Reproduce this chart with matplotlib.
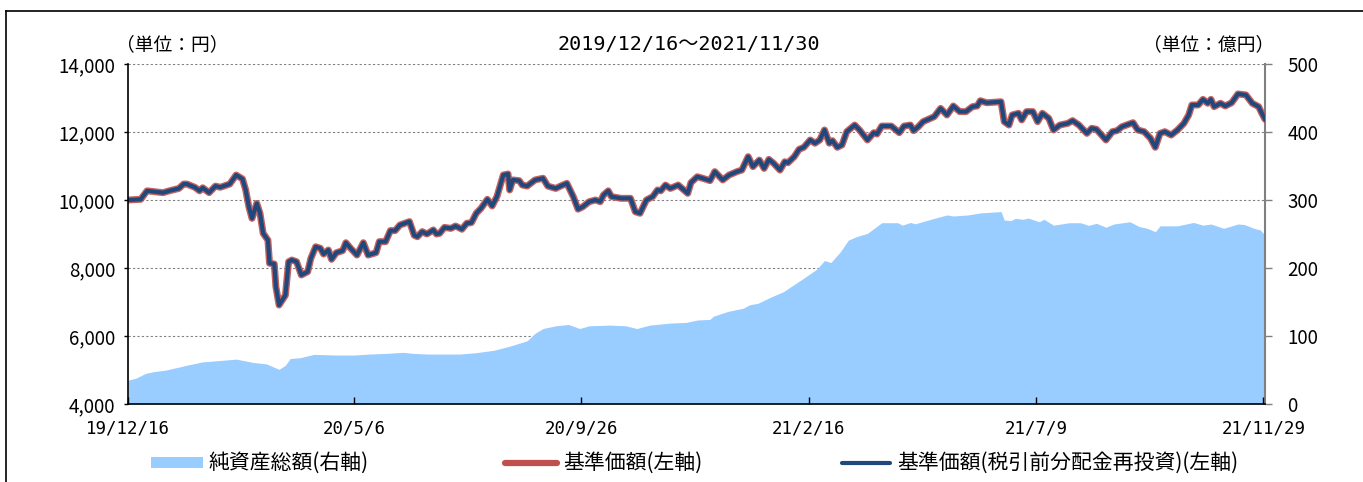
import numpy as np
import matplotlib
matplotlib.use("Agg")
import matplotlib.pyplot as plt
from matplotlib.lines import Line2D
from matplotlib.patches import Rectangle
from matplotlib.ticker import FuncFormatter

plt.rcParams["font.family"] = ["Noto Sans CJK JP", "DejaVu Sans"]
MONO = ["DejaVu Sans Mono", "Noto Sans CJK JP"]

START = np.datetime64("2019-12-16")
END = np.datetime64("2021-11-30")

# 基準価額（円）: 設定日からの経過日数と値
nav_days = [
    0, 8, 12, 22, 26, 32, 35, 37, 42, 45, 47, 51, 55, 58, 64, 68, 72, 74, 76, 78,
    81, 83, 85, 88, 89, 92, 93, 95, 99, 101, 103, 106, 109, 113, 115, 118, 121, 123, 126, 128,
    131, 135, 137, 140, 144, 148, 151, 156, 158, 162, 165, 168, 171, 177, 180, 182, 185, 188, 192, 194,
    196, 199, 203, 206, 210, 213, 216, 219, 222, 226, 229, 232, 236, 239, 240, 242, 246, 248, 251, 256,
    261, 264, 269, 272, 276, 280, 283, 286, 290, 294, 297, 299, 302, 304, 310, 316, 319, 322, 326, 330,
    333, 335, 338, 341, 346, 352, 354, 358, 362, 366, 369, 374, 378, 383, 386, 390, 393, 397, 400, 403,
    406, 410, 413, 415, 419, 422, 425, 429, 432, 435, 438, 441, 443, 446, 449, 452, 457, 460, 465, 469,
    471, 474, 480, 485, 488, 492, 494, 497, 500, 507, 511, 515, 519, 523, 527, 531, 534, 536, 540, 549,
    551, 554, 556, 560, 562, 565, 569, 572, 575, 579, 582, 586, 591, 594, 598, 603, 606, 609, 615, 619,
    622, 625, 628, 632, 635, 639, 643, 646, 649, 652, 656, 660, 664, 667, 669, 673, 676, 679, 681, 683,
    687, 690, 694, 698, 703, 707, 711, 713, 715,
]
nav_values = [
    10000, 10020, 10270, 10215, 10270, 10340, 10470, 10470, 10375, 10270, 10360, 10215, 10410, 10375, 10470, 10735, 10620, 10300, 9800, 9460,
    9900, 9610, 9020, 8820, 8140, 8120, 7450, 6910, 7200, 8185, 8235, 8185, 7795, 7890, 8285, 8625, 8580, 8410, 8530, 8255,
    8450, 8510, 8745, 8580, 8380, 8745, 8380, 8450, 8775, 8775, 9100, 9100, 9265, 9365, 8960, 8920, 9070, 9000, 9120, 9000,
    9020, 9195, 9165, 9235, 9140, 9315, 9335, 9610, 9755, 10020, 9825, 10100, 10735, 10765, 10295, 10590, 10570, 10440, 10410, 10590,
    10640, 10410, 10340, 10410, 10490, 10100, 9730, 9800, 9950, 10000, 9950, 10145, 10270, 10100, 10050, 10050, 9655, 9610, 10000, 10100,
    10295, 10270, 10440, 10340, 10440, 10195, 10510, 10685, 10630, 10570, 10835, 10590, 10735, 10835, 10880, 11275, 10980, 11175, 10930, 11195,
    11080, 10880, 11125, 11095, 11275, 11490, 11550, 11765, 11670, 11765, 12060, 11670, 11745, 11550, 11620, 12010, 12205, 12060, 11765, 11980,
    11940, 12175, 12175, 11980, 12175, 12205, 12040, 12155, 12305, 12450, 12695, 12500, 12765, 12600, 12600, 12745, 12765, 12920, 12860, 12890,
    12305, 12205, 12500, 12550, 12355, 12600, 12600, 12305, 12550, 12405, 12060, 12205, 12255, 12335, 12205, 11960, 12110, 12080, 11765, 12010,
    12040, 12155, 12205, 12275, 12060, 12010, 11815, 11550, 11960, 12010, 11910, 12060, 12255, 12500, 12795, 12795, 12960, 12845, 12960, 12745,
    12845, 12765, 12860, 13120, 13090, 12845, 12745, 12550, 12375,
]
# 分配実績なしのため、税引前分配金再投資の基準価額は基準価額と同じ
nav_reinvest_values = nav_values

# 純資産総額（億円）
aum_days = [
    0, 5, 11, 16, 24, 37, 47, 58, 68, 79, 87, 95, 99, 102, 108, 117, 131, 142, 152, 163,
    173, 179, 188, 209, 219, 230, 240, 251, 256, 261, 269, 277, 284, 290, 303, 313, 320, 328, 341, 351,
    358, 366, 368, 377, 387, 391, 396, 404, 412, 423, 433, 438, 442, 448, 453, 458, 465, 474, 484, 487,
    492, 495, 507, 515, 519, 528, 536, 549, 551, 555, 558, 563, 566, 573, 576, 582, 592, 599, 604, 609,
    615, 620, 630, 636, 641, 646, 649, 660, 670, 676, 681, 689, 698, 702, 708, 712, 715,
]
aum_values = [
    35, 38, 45, 47.5, 50, 57, 62, 64, 66, 61, 59, 51, 57, 67, 68, 73, 72, 72, 73.5, 74.5,
    76, 74.5, 73.5, 73.5, 75.5, 79, 85, 93, 104, 111, 115, 117, 111, 115, 116, 115, 111, 116, 119, 120,
    123.5, 124.5, 129, 136, 141, 146, 148, 157, 165, 182, 198, 211, 208, 224, 241, 246, 251, 266.6, 266.6, 263,
    267, 265, 273, 278, 276.5, 278, 281, 283, 270.6, 269.6, 273, 271.6, 273.5, 268, 271.6, 263, 266.6, 266.6, 262.7, 265.7,
    260, 264.7, 268, 260.8, 258.4, 253.4, 262, 262, 267, 263, 264.7, 258.4, 264.7, 264, 258.4, 256, 248.5,
]

tick_dates = ["2019-12-16", "2020-05-06", "2020-09-26", "2021-02-16", "2021-07-09", "2021-11-29"]
tick_labels = ["19/12/16", "20/5/6", "20/9/26", "21/2/16", "21/7/9", "21/11/29"]

RED = "#C0504D"
NAVY = "#1F497D"
AREA = "#99CCFF"
GRID = "#808080"

nav_dates = START + np.array(nav_days, dtype="timedelta64[D]")
aum_dates = START + np.array(aum_days, dtype="timedelta64[D]")

fig = plt.figure(figsize=(13.63, 4.82), dpi=100)
ax = fig.add_axes([0.0939, 0.1618, 0.8342, 0.7054])
ax2 = ax.twinx()

# 純資産総額（右軸）
ax2.fill_between(aum_dates, aum_values, 0, color=AREA, lw=0, zorder=2)
ax2.set_ylim(0, 500)
ax2.set_yticks(np.arange(0, 501, 100))
ax2.set_axisbelow(True)
ax2.grid(axis="y", ls=(0, (2, 2)), color=GRID, lw=0.8)
ax2.tick_params(axis="y", direction="out", length=5, width=1, color=GRID, pad=11, labelsize=13.5)

# 基準価額（左軸）を前面に
ax.set_zorder(ax2.get_zorder() + 1)
ax.patch.set_visible(False)
ax.plot(nav_dates, nav_values, color=RED, lw=5, alpha=0.9, solid_joinstyle="round", solid_capstyle="round")
ax.plot(nav_dates, nav_reinvest_values, color=NAVY, lw=3, solid_joinstyle="round")
ax.set_ylim(4000, 14000)
ax.set_yticks(np.arange(4000, 14001, 2000))
ax.yaxis.set_major_formatter(FuncFormatter(lambda v, p: f"{int(v):,}"))
ax.set_xlim(START, END)
ax.set_xticks(np.array(tick_dates, dtype="datetime64[D]"))
ax.set_xticklabels(tick_labels, family=MONO)
ax.tick_params(axis="x", direction="in", length=5, width=1, pad=11, labelsize=12.5)
ax.tick_params(axis="y", direction="out", length=3, width=1, pad=6, labelsize=13.5)

for s in ["top", "right"]:
    ax.spines[s].set_visible(False)
ax.spines["left"].set_linewidth(1.2)
ax.spines["bottom"].set_linewidth(1.2)
for s in ["top", "left", "bottom"]:
    ax2.spines[s].set_visible(False)
ax2.spines["right"].set_color(GRID)
ax2.spines["right"].set_linewidth(1.5)

# 見出し
ty = 1 - 45 / 482
fig.text(688.5 / 1363, ty, "2019/12/16～2021/11/30", ha="center", va="center", fontsize=14.5, family=MONO)
fig.text(172 / 1363, ty, "（単位：円）", ha="center", va="center", fontsize=13.5)
fig.text(1209 / 1363, ty, "（単位：億円）", ha="center", va="center", fontsize=13.5)

# 凡例
ly = 1 - 463 / 482
fig.add_artist(Rectangle((151 / 1363, 1 - 468 / 482), 52 / 1363, 11 / 482,
                         transform=fig.transFigure, color=AREA, lw=0))
fig.text(208 / 1363, ly, "純資産総額(右軸)", ha="left", va="center", fontsize=15)
fig.add_artist(Line2D([505 / 1363, 557 / 1363], [ly, ly], transform=fig.transFigure,
                      color=RED, lw=4.5, solid_capstyle="round"))
fig.text(563 / 1363, ly, "基準価額(左軸)", ha="left", va="center", fontsize=15)
fig.add_artist(Line2D([842 / 1363, 890 / 1363], [ly, ly], transform=fig.transFigure,
                      color=NAVY, lw=3, solid_capstyle="round"))
fig.text(897 / 1363, ly, "基準価額(税引前分配金再投資)(左軸)", ha="left", va="center", fontsize=15)

# 外枠
fig.add_artist(Line2D([6 / 1363, 6 / 1363], [0, 1 - 11 / 482], transform=fig.transFigure, color="black", lw=1.2))
fig.add_artist(Line2D([6 / 1363, 1], [1 - 11 / 482, 1 - 11 / 482], transform=fig.transFigure, color="black", lw=1.2))

fig.savefig("out.png", dpi=100)
